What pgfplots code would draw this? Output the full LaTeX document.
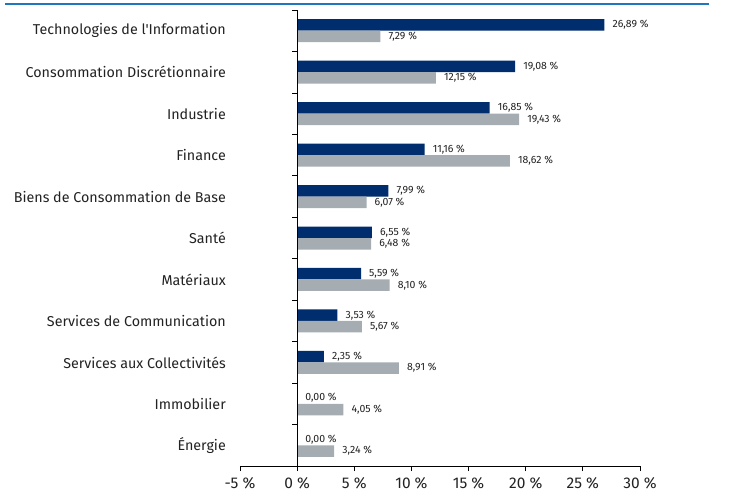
\documentclass[border=0pt]{standalone}
\usepackage{pgfplots}
\pgfplotsset{compat=1.18}
\usepackage{fontspec}
\setmainfont{Fira Sans}[Ligatures=TeXOff]
\definecolor{navy}{HTML}{002D6E}
\definecolor{grayb}{HTML}{A5ACB2}
\definecolor{topblue}{HTML}{1F77C0}
\definecolor{txt}{HTML}{222222}
\begin{document}
\begin{tikzpicture}
\path[use as bounding box] (-240pt,-30pt) rectangle (494pt,466pt);
\draw[topblue, line width=1.3pt] (-235pt,462pt) -- (469pt,462pt);
\begin{axis}[
  scale only axis, width=400pt, height=456pt,
  at={(0pt,0pt)}, anchor=south west,
  xbar, bar width=11.5pt,
  xmin=-5, xmax=30, ymin=-0.5, ymax=10.5, y dir=reverse,
  axis x line*=bottom, axis y line*=left,
  y axis line style={draw=none},
  x axis line style={line width=0.8pt, black},
  xtick={-5,0,5,10,15,20,25,30},
  xticklabels={-5 \%,0 \%,5 \%,10 \%,15 \%,20 \%,25 \%,30 \%},
  xticklabel style={font=\fontsize{15.5}{17}\selectfont, text=txt, inner sep=0pt, yshift=-6pt},
  x tick style={line width=0.8pt, black},
  tick align=outside, major tick length=5pt,
  ytick={0,1,2,3,4,5,6,7,8,9,10},
  yticklabels={Technologies de l'Information, Consommation Discrétionnaire, Industrie, Finance, Biens de Consommation de Base, Santé, Matériaux, Services de Communication, Services aux Collectivités, Immobilier, Énergie},
  y tick style={draw=none},
  yticklabel style={font=\fontsize{14.3}{16}\selectfont, text=txt, inner sep=0pt, xshift=-9pt},
  nodes near coords={\pgfmathprintnumber{\pgfplotspointmeta}\ \%},
  every node near coord/.append style={font=\fontsize{10.5}{12}\selectfont, text=txt, anchor=west, inner sep=0pt, xshift=8pt},
  /pgf/number format/.cd, fixed, fixed zerofill, precision=2, use comma, assume math mode=true,
]
\addplot[fill=navy, draw=none, bar shift=5.75pt] coordinates {
(26.89,0) (19.08,1) (16.85,2) (11.16,3) (7.99,4) (6.55,5) (5.59,6) (3.53,7) (2.35,8) (0,9) (0,10)};
\addplot[fill=grayb, draw=none, bar shift=-5.75pt] coordinates {
(7.29,0) (12.15,1) (19.43,2) (18.62,3) (6.07,4) (6.48,5) (8.10,6) (5.67,7) (8.91,8) (4.05,9) (3.24,10)};
\draw[line width=0.8pt] (axis cs:0,-0.5) -- (axis cs:0,10.5);
\pgfplotsinvokeforeach{-0.5,0.5,1.5,2.5,3.5,4.5,5.5,6.5,7.5,8.5,9.5}{
  \draw[line width=0.8pt] (axis cs:0,#1) -- ++(-5pt,0pt);
}
\end{axis}
\end{tikzpicture}
\end{document}
